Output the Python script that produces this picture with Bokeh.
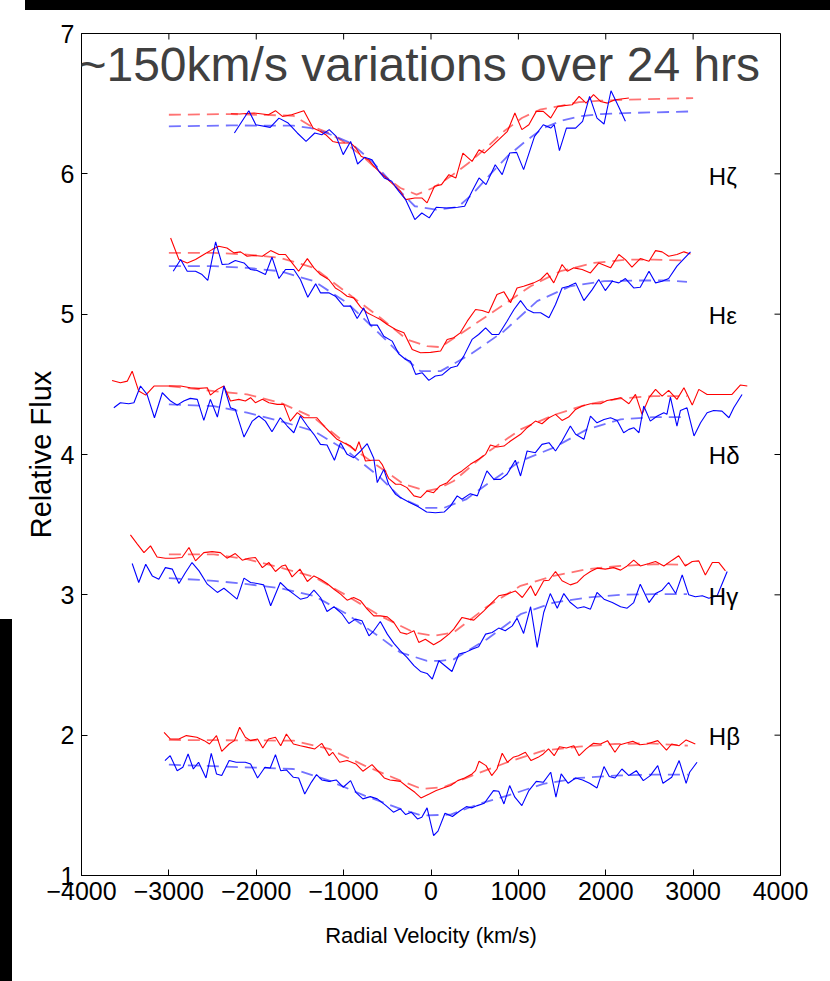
from bokeh.plotting import figure
from bokeh.models import Range1d, FixedTicker, Label, Spacer
from bokeh.layouts import row, column
from bokeh.core.properties import value
from bokeh.embed import file_html
from bokeh.resources import INLINE

# ---------------- data ----------------
x_min, x_max = -4000, 4000
y_min, y_max = 1, 7
x_ticks = [-4000, -3000, -2000, -1000, 0, 1000, 2000, 3000, 4000]
x_tick_labels = ["\u22124000", "\u22123000", "\u22122000", "\u22121000", "0", "1000", "2000", "3000", "4000"]
y_ticks = [1, 2, 3, 4, 5, 6, 7]

line_names = ["H\u03b6", "H\u03b5", "H\u03b4", "H\u03b3", "H\u03b2"]
label_v = [3180, 3180, 3180, 3180, 3180]
label_f = [5.98, 4.99, 3.99, 2.99, 1.99]

# H zeta
zeta_red_v = [-2290, -2190, -2025, -1860, -1780, -1700, -1595, -1455, -1350, -1270, -1205, -1125, -1045, -920, -860, -800, -715, -655, -595, -515, -430, -350, -290, -185, -105, -45, 40, 120, 205, 285, 365, 470, 550, 610, 715, 835, 875, 960, 1040, 1120, 1205, 1285, 1370, 1450, 1615, 1695, 1775, 1860, 1940, 2020, 2105, 2265]
zeta_red_f = [6.428, 6.426, 6.433, 6.421, 6.450, 6.409, 6.421, 6.450, 6.326, 6.303, 6.279, 6.231, 6.220, 6.220, 6.184, 6.125, 6.101, 6.054, 6.018, 5.971, 5.923, 5.876, 5.816, 5.828, 5.828, 5.793, 5.911, 5.923, 5.994, 5.971, 6.148, 6.089, 6.172, 6.148, 6.208, 6.279, 6.303, 6.433, 6.315, 6.350, 6.445, 6.445, 6.398, 6.481, 6.492, 6.552, 6.504, 6.564, 6.516, 6.504, 6.528, 6.540]
zeta_blue_v = [-2250, -2085, -2005, -1840, -1740, -1635, -1530, -1430, -1330, -1250, -1165, -1085, -1005, -920, -840, -760, -675, -595, -535, -450, -370, -290, -185, -105, -20, 60, 180, 305, 385, 470, 550, 630, 735, 815, 900, 980, 1060, 1185, 1285, 1370, 1410, 1470, 1550, 1655, 1735, 1815, 1900, 1980, 2060, 2145, 2225]
zeta_blue_f = [6.291, 6.450, 6.350, 6.331, 6.397, 6.362, 6.291, 6.231, 6.291, 6.279, 6.315, 6.267, 6.137, 6.231, 6.070, 6.118, 6.101, 6.018, 5.971, 5.947, 5.876, 5.816, 5.674, 5.721, 5.686, 5.762, 5.757, 5.762, 5.769, 5.876, 5.971, 5.923, 6.065, 5.994, 6.148, 6.153, 6.030, 6.267, 6.350, 6.326, 6.350, 6.165, 6.326, 6.326, 6.374, 6.552, 6.397, 6.355, 6.592, 6.481, 6.374]
zeta_redfit_v = [-3000, -2290, -1575, -1370, -1165, -1005, -760, -555, -350, -165, 20, 225, 430, 630, 835, 1040, 1245, 1490, 1695, 1940, 2225, 3000]
zeta_redfit_f = [6.421, 6.426, 6.414, 6.338, 6.291, 6.231, 6.113, 5.994, 5.899, 5.852, 5.899, 5.982, 6.077, 6.184, 6.303, 6.398, 6.457, 6.485, 6.511, 6.521, 6.528, 6.540]
zeta_bluefit_v = [-3000, -2290, -1575, -1370, -1165, -920, -675, -430, -185, 60, 305, 470, 675, 875, 1080, 1285, 1490, 1695, 1940, 2225, 3000]
zeta_bluefit_f = [6.338, 6.345, 6.343, 6.326, 6.284, 6.220, 6.089, 5.923, 5.769, 5.745, 5.762, 5.852, 5.994, 6.125, 6.231, 6.326, 6.378, 6.409, 6.426, 6.433, 6.445]

# H epsilon
eps_red_v = [-2980, -2885, -2790, -2695, -2600, -2505, -2430, -2335, -2255, -2180, -2105, -2030, -1930, -1835, -1740, -1665, -1590, -1515, -1415, -1340, -1265, -1170, -1095, -1035, -960, -885, -805, -730, -655, -580, -500, -405, -310, -215, -120, -5, 110, 185, 260, 335, 415, 510, 585, 660, 755, 835, 910, 985, 1060, 1175, 1255, 1330, 1405, 1500, 1560, 1635, 1730, 1825, 1920, 2055, 2150, 2225, 2300, 2395, 2495, 2570, 2645, 2720, 2815, 2895, 2970]
eps_red_f = [5.543, 5.389, 5.365, 5.389, 5.425, 5.460, 5.484, 5.472, 5.437, 5.444, 5.413, 5.418, 5.413, 5.453, 5.425, 5.425, 5.365, 5.306, 5.396, 5.330, 5.282, 5.247, 5.187, 5.164, 5.128, 5.116, 5.050, 5.010, 4.986, 4.962, 4.926, 4.891, 4.867, 4.748, 4.725, 4.728, 4.737, 4.820, 4.832, 4.867, 4.950, 5.033, 5.026, 5.010, 5.140, 5.159, 5.081, 5.187, 5.199, 5.223, 5.247, 5.294, 5.223, 5.354, 5.306, 5.330, 5.318, 5.294, 5.365, 5.330, 5.425, 5.389, 5.335, 5.396, 5.377, 5.453, 5.444, 5.413, 5.425, 5.444, 5.429]
eps_blue_v = [-2950, -2865, -2790, -2695, -2620, -2555, -2465, -2390, -2315, -2240, -2140, -2065, -1990, -1895, -1820, -1740, -1665, -1570, -1495, -1410, -1320, -1265, -1170, -1095, -1000, -920, -845, -770, -695, -615, -540, -445, -370, -290, -235, -175, -100, -25, 50, 125, 225, 300, 375, 470, 545, 625, 700, 775, 870, 950, 1025, 1100, 1175, 1255, 1350, 1425, 1500, 1575, 1655, 1750, 1845, 1920, 1995, 2075, 2150, 2225, 2320, 2395, 2495, 2570, 2645, 2720, 2815, 2970]
eps_blue_f = [5.306, 5.389, 5.306, 5.306, 5.282, 5.240, 5.515, 5.354, 5.358, 5.382, 5.365, 5.318, 5.311, 5.282, 5.406, 5.254, 5.318, 5.318, 5.247, 5.121, 5.216, 5.152, 5.152, 5.128, 5.057, 5.057, 4.969, 5.045, 4.922, 4.922, 4.843, 4.808, 4.718, 4.677, 4.665, 4.571, 4.582, 4.528, 4.559, 4.566, 4.618, 4.630, 4.701, 4.820, 4.855, 4.903, 4.855, 4.855, 4.950, 5.033, 5.097, 5.033, 5.010, 5.010, 4.974, 5.069, 5.187, 5.199, 5.223, 5.097, 5.175, 5.247, 5.168, 5.235, 5.223, 5.254, 5.187, 5.192, 5.306, 5.223, 5.235, 5.254, 5.342, 5.444]
eps_redfit_v = [-3000, -2485, -2105, -1725, -1340, -960, -580, -275, -45, 110, 450, 835, 1140, 1480, 1865, 2245, 2550, 2930]
eps_redfit_f = [5.437, 5.437, 5.425, 5.401, 5.330, 5.152, 4.974, 4.820, 4.772, 4.765, 4.907, 5.069, 5.199, 5.306, 5.365, 5.389, 5.389, 5.382]
eps_bluefit_v = [-3000, -2485, -2105, -1725, -1340, -960, -580, -350, -120, 110, 450, 835, 1215, 1595, 1980, 2360, 2700, 2930]
eps_bluefit_f = [5.342, 5.342, 5.330, 5.306, 5.235, 5.081, 4.855, 4.713, 4.594, 4.594, 4.713, 4.879, 5.093, 5.199, 5.235, 5.240, 5.240, 5.230]

# H delta
delta_red_v = [-3650, -3555, -3475, -3420, -3345, -3265, -3170, -3060, -2945, -2865, -2755, -2655, -2560, -2525, -2445, -2370, -2295, -2200, -2125, -2065, -2010, -1930, -1855, -1760, -1685, -1610, -1530, -1455, -1380, -1305, -1225, -1150, -1075, -1000, -920, -865, -825, -750, -675, -595, -560, -485, -405, -350, -275, -195, -120, -45, 30, 100, 185, 260, 355, 450, 545, 625, 680, 755, 835, 910, 1025, 1100, 1195, 1270, 1350, 1425, 1500, 1575, 1655, 1730, 1825, 1940, 2015, 2090, 2170, 2265, 2340, 2415, 2495, 2570, 2645, 2720, 2815, 2895, 2990, 3065, 3160, 3235, 3330, 3445, 3540, 3620]
delta_red_f = [4.528, 4.511, 4.523, 4.594, 4.452, 4.423, 4.488, 4.488, 4.488, 4.488, 4.476, 4.471, 4.476, 4.423, 4.464, 4.488, 4.381, 4.393, 4.381, 4.405, 4.369, 4.393, 4.369, 4.357, 4.357, 4.238, 4.298, 4.262, 4.262, 4.262, 4.203, 4.155, 4.108, 4.084, 4.060, 4.025, 4.091, 3.954, 3.959, 3.959, 3.930, 3.830, 3.788, 3.788, 3.764, 3.705, 3.693, 3.740, 3.728, 3.775, 3.799, 3.847, 3.883, 3.930, 3.966, 4.001, 4.068, 4.053, 4.060, 4.096, 4.144, 4.191, 4.238, 4.219, 4.262, 4.286, 4.243, 4.267, 4.321, 4.345, 4.362, 4.362, 4.385, 4.393, 4.405, 4.362, 4.428, 4.286, 4.405, 4.464, 4.416, 4.457, 4.393, 4.476, 4.352, 4.464, 4.428, 4.428, 4.428, 4.428, 4.495, 4.488]
delta_blue_v = [-3630, -3555, -3460, -3400, -3325, -3250, -3165, -3075, -2980, -2905, -2830, -2755, -2675, -2600, -2525, -2445, -2370, -2295, -2240, -2140, -2045, -1970, -1895, -1820, -1725, -1645, -1570, -1495, -1415, -1340, -1265, -1190, -1105, -1035, -960, -885, -805, -730, -655, -615, -540, -485, -405, -350, -250, -150, -50, 50, 150, 220, 300, 355, 450, 530, 640, 720, 795, 870, 965, 1025, 1100, 1195, 1270, 1350, 1425, 1500, 1595, 1655, 1750, 1825, 1900, 1980, 2055, 2130, 2205, 2265, 2320, 2380, 2435, 2510, 2590, 2665, 2700, 2740, 2815, 2855, 2930, 3010, 3085, 3160, 3235, 3330, 3410, 3465, 3560]
delta_blue_f = [4.333, 4.369, 4.362, 4.369, 4.488, 4.428, 4.262, 4.440, 4.381, 4.352, 4.381, 4.400, 4.393, 4.243, 4.393, 4.267, 4.488, 4.333, 4.321, 4.124, 4.238, 4.274, 4.238, 4.162, 4.262, 4.203, 4.155, 4.274, 4.203, 4.144, 4.072, 4.068, 3.959, 4.084, 4.001, 3.977, 4.025, 4.077, 3.973, 3.800, 3.894, 3.788, 3.716, 3.693, 3.660, 3.630, 3.590, 3.585, 3.590, 3.630, 3.705, 3.681, 3.721, 3.705, 3.883, 3.823, 3.823, 3.859, 3.959, 3.847, 4.025, 4.013, 4.072, 4.084, 4.025, 4.096, 4.203, 4.144, 4.108, 4.274, 4.226, 4.250, 4.262, 4.243, 4.155, 4.179, 4.191, 4.155, 4.345, 4.238, 4.274, 4.298, 4.286, 4.409, 4.203, 4.314, 4.333, 4.132, 4.226, 4.298, 4.314, 4.309, 4.262, 4.333, 4.428]
delta_redfit_v = [-3000, -2485, -2105, -1725, -1340, -960, -580, -310, -45, 100, 260, 640, 1025, 1405, 1785, 2170, 2550, 2930]
delta_redfit_f = [4.488, 4.452, 4.428, 4.369, 4.262, 4.072, 3.906, 3.788, 3.740, 3.760, 3.811, 4.013, 4.179, 4.281, 4.357, 4.400, 4.416, 4.416]
delta_bluefit_v = [-3000, -2485, -2105, -1725, -1340, -960, -580, -350, -100, 150, 400, 640, 1025, 1405, 1785, 2170, 2550, 2930]
delta_bluefit_f = [4.357, 4.345, 4.298, 4.238, 4.167, 4.025, 3.835, 3.693, 3.620, 3.620, 3.680, 3.788, 3.954, 4.049, 4.179, 4.250, 4.267, 4.267]

# H gamma
gamma_red_v = [-3440, -3365, -3285, -3210, -3135, -3040, -2945, -2850, -2770, -2695, -2600, -2505, -2410, -2335, -2240, -2160, -2085, -2010, -1930, -1855, -1780, -1705, -1665, -1590, -1500, -1415, -1340, -1265, -1190, -1110, -1035, -960, -885, -805, -730, -655, -580, -500, -425, -350, -275, -195, -140, -65, 30, 110, 205, 260, 355, 435, 490, 605, 680, 775, 870, 965, 1045, 1140, 1195, 1290, 1350, 1425, 1500, 1595, 1675, 1750, 1825, 1900, 1995, 2090, 2170, 2245, 2320, 2395, 2495, 2570, 2665, 2760, 2835, 2910, 2990, 3065, 3140, 3220, 3295, 3370]
gamma_red_f = [3.427, 3.365, 3.301, 3.349, 3.270, 3.261, 3.261, 3.266, 3.337, 3.242, 3.301, 3.308, 3.301, 3.261, 3.294, 3.247, 3.261, 3.266, 3.194, 3.230, 3.166, 3.206, 3.213, 3.128, 3.183, 3.095, 3.135, 3.111, 3.081, 3.040, 3.005, 2.962, 2.981, 2.957, 2.898, 2.850, 2.850, 2.843, 2.803, 2.732, 2.720, 2.744, 2.661, 2.684, 2.644, 2.673, 2.720, 2.756, 2.839, 2.827, 2.820, 2.886, 2.934, 2.993, 3.005, 3.028, 2.981, 3.064, 2.993, 3.100, 3.104, 3.166, 3.100, 3.071, 3.088, 3.135, 3.166, 3.190, 3.183, 3.194, 3.176, 3.206, 3.247, 3.206, 3.223, 3.237, 3.206, 3.247, 3.278, 3.206, 3.237, 3.242, 3.142, 3.230, 3.230, 3.171]
gamma_blue_v = [-3420, -3345, -3265, -3190, -3115, -3040, -2960, -2885, -2810, -2735, -2655, -2560, -2445, -2370, -2295, -2220, -2140, -2065, -1990, -1915, -1835, -1725, -1645, -1570, -1495, -1415, -1340, -1265, -1190, -1110, -1015, -940, -865, -790, -710, -655, -580, -500, -425, -350, -275, -195, -120, -45, 15, 90, 240, 320, 395, 470, 545, 625, 700, 775, 850, 930, 985, 1060, 1140, 1215, 1290, 1365, 1445, 1520, 1595, 1675, 1750, 1825, 1900, 1980, 2075, 2170, 2245, 2320, 2395, 2495, 2570, 2645, 2720, 2800, 2875, 2950, 3025, 3105, 3180, 3275, 3390]
gamma_blue_f = [3.223, 3.088, 3.218, 3.135, 3.111, 3.194, 3.183, 3.081, 3.159, 3.230, 3.171, 3.076, 3.017, 3.047, 3.009, 2.969, 3.119, 3.088, 3.081, 3.071, 2.922, 3.088, 3.040, 3.005, 2.969, 2.981, 3.033, 2.981, 2.881, 2.915, 2.862, 2.796, 2.827, 2.815, 2.708, 2.744, 2.810, 2.720, 2.654, 2.601, 2.554, 2.495, 2.454, 2.440, 2.400, 2.530, 2.454, 2.578, 2.590, 2.613, 2.630, 2.720, 2.732, 2.763, 2.744, 2.779, 2.834, 2.725, 2.915, 2.625, 2.874, 3.009, 2.905, 3.009, 2.945, 2.905, 2.915, 2.898, 3.017, 2.969, 2.945, 2.915, 2.905, 2.945, 3.076, 2.945, 3.009, 3.033, 3.088, 3.009, 3.142, 3.000, 2.986, 2.993, 2.976, 2.993, 3.166]
gamma_redfit_v = [-3000, -2485, -2105, -1725, -1340, -960, -580, -195, 30, 260, 640, 1025, 1405, 1785, 2170, 2550, 2930]
gamma_redfit_f = [3.289, 3.289, 3.254, 3.194, 3.128, 2.993, 2.850, 2.732, 2.708, 2.732, 2.915, 3.064, 3.135, 3.183, 3.206, 3.218, 3.214]
gamma_bluefit_v = [-3000, -2485, -2105, -1725, -1340, -960, -580, -350, -45, 110, 260, 640, 1025, 1405, 1785, 2170, 2550, 2930]
gamma_bluefit_f = [3.119, 3.100, 3.076, 3.047, 2.993, 2.862, 2.696, 2.589, 2.530, 2.530, 2.540, 2.684, 2.862, 2.945, 2.981, 3.000, 3.005, 3.005]

# H beta
beta_red_v = [-3055, -2985, -2885, -2800, -2680, -2595, -2535, -2455, -2395, -2310, -2250, -2190, -2125, -2065, -1985, -1925, -1860, -1780, -1720, -1655, -1575, -1495, -1410, -1330, -1250, -1165, -1125, -1045, -960, -860, -780, -675, -595, -535, -470, -410, -350, -265, -185, -115, -20, 60, 140, 225, 305, 385, 470, 510, 550, 630, 695, 755, 815, 875, 940, 1000, 1080, 1145, 1225, 1285, 1345, 1410, 1470, 1550, 1635, 1695, 1775, 1860, 1940, 2020, 2105, 2165, 2225, 2310, 2390, 2470, 2595, 2695, 2755, 2840, 2920, 3025]
beta_red_f = [2.020, 1.973, 1.973, 1.997, 1.985, 1.961, 1.937, 1.997, 1.885, 1.937, 1.961, 2.056, 1.985, 1.961, 1.973, 1.909, 1.973, 1.985, 1.925, 2.008, 1.937, 1.925, 1.913, 1.902, 1.942, 1.854, 1.878, 1.807, 1.819, 1.795, 1.743, 1.790, 1.736, 1.695, 1.681, 1.676, 1.671, 1.629, 1.593, 1.553, 1.581, 1.605, 1.624, 1.641, 1.676, 1.695, 1.724, 1.747, 1.814, 1.783, 1.712, 1.759, 1.871, 1.807, 1.842, 1.854, 1.878, 1.819, 1.842, 1.866, 1.902, 1.854, 1.918, 1.909, 1.925, 1.854, 1.902, 1.942, 1.937, 1.961, 1.878, 1.932, 1.942, 1.956, 1.932, 1.937, 1.961, 1.894, 1.937, 1.925, 1.966, 1.937]
beta_blue_v = [-3045, -2985, -2905, -2840, -2780, -2720, -2660, -2575, -2515, -2455, -2395, -2310, -2230, -2125, -2065, -1985, -1900, -1840, -1780, -1720, -1655, -1575, -1515, -1445, -1370, -1310, -1250, -1165, -1085, -1005, -920, -860, -780, -695, -615, -515, -430, -350, -290, -225, -155, -105, -45, 30, 80, 160, 245, 325, 405, 470, 530, 610, 715, 775, 835, 900, 960, 1040, 1120, 1205, 1285, 1370, 1430, 1490, 1570, 1655, 1735, 1815, 1900, 1980, 2040, 2105, 2185, 2265, 2350, 2430, 2510, 2595, 2655, 2755, 2840, 2920, 2960, 3045]
beta_blue_f = [1.819, 1.854, 1.747, 1.771, 1.866, 1.759, 1.807, 1.695, 1.871, 1.724, 1.712, 1.819, 1.807, 1.807, 1.795, 1.695, 1.771, 1.766, 1.861, 1.747, 1.752, 1.700, 1.695, 1.581, 1.664, 1.719, 1.681, 1.671, 1.681, 1.629, 1.676, 1.593, 1.546, 1.562, 1.546, 1.498, 1.451, 1.475, 1.434, 1.451, 1.403, 1.415, 1.482, 1.285, 1.316, 1.444, 1.420, 1.458, 1.491, 1.482, 1.498, 1.515, 1.605, 1.600, 1.510, 1.641, 1.558, 1.498, 1.605, 1.671, 1.664, 1.736, 1.558, 1.724, 1.657, 1.695, 1.681, 1.657, 1.624, 1.776, 1.705, 1.695, 1.759, 1.712, 1.747, 1.676, 1.712, 1.783, 1.657, 1.700, 1.819, 1.657, 1.736, 1.807]
beta_redfit_v = [-3000, -1575, -1165, -760, -350, -105, 140, 470, 875, 1285, 1695, 2105, 2510, 2940]
beta_redfit_f = [1.966, 1.961, 1.902, 1.783, 1.676, 1.617, 1.629, 1.712, 1.807, 1.890, 1.918, 1.937, 1.942, 1.925]
beta_bluefit_v = [-3000, -1575, -1165, -760, -350, -105, 225, 550, 875, 1285, 1695, 2105, 2510, 2940]
beta_bluefit_f = [1.790, 1.759, 1.676, 1.569, 1.475, 1.427, 1.434, 1.510, 1.569, 1.653, 1.695, 1.712, 1.719, 1.719]

title_text = "~150km/s variations over 24 hrs"

# ---------------- figure ----------------
RED = "#ff0000"
BLUE = "#0000ff"
SANS = "Liberation Sans"

p = figure(width=818, height=971, output_backend="svg", toolbar_location=None,
           x_range=Range1d(x_min, x_max), y_range=Range1d(y_min, y_max),
           min_border_left=69, min_border_right=50, min_border_top=23, min_border_bottom=106,
           background_fill_color="white", border_fill_color="white")
p.grid.visible = False
p.outline_line_color = "black"
p.outline_line_width = 1

for ax in p.xaxis + p.yaxis:
    ax.major_tick_in = 6
    ax.major_tick_out = 0
    ax.minor_tick_in = 0
    ax.minor_tick_out = 0
    ax.axis_line_color = "black"
    ax.major_tick_line_color = "black"
    ax.major_label_text_font = SANS
    ax.major_label_text_font_size = "25px"
    ax.major_label_text_color = "black"
    ax.axis_label_text_font = SANS
    ax.axis_label_text_font_style = "normal"
    ax.axis_label_text_color = "black"

p.xaxis.ticker = FixedTicker(ticks=x_ticks)
p.yaxis.ticker = FixedTicker(ticks=y_ticks)
p.xaxis.major_label_overrides = {t: s for t, s in zip(x_ticks, x_tick_labels)}
p.xaxis.major_label_standoff = 6
p.yaxis.major_label_standoff = 7

p.xaxis.axis_label = "Radial Velocity (km/s)"
p.xaxis.axis_label_text_font_size = "22px"
p.xaxis.axis_label_standoff = 20

p.yaxis.axis_label = "Relative Flux"
p.yaxis.axis_label_text_font_size = "29px"
p.yaxis.axis_label_standoff = 1

# inward ticks on the top and right edges of the box
p.ray(x=x_ticks, y=[y_max] * len(x_ticks), length=6, length_units="screen",
      angle=-90, angle_units="deg", line_color="black", line_width=1)
p.ray(x=[x_max] * len(y_ticks), y=y_ticks, length=6, length_units="screen",
      angle=180, angle_units="deg", line_color="black", line_width=1)

series = [
    (zeta_redfit_v, zeta_redfit_f, RED, True), (zeta_bluefit_v, zeta_bluefit_f, BLUE, True),
    (eps_redfit_v, eps_redfit_f, RED, True), (eps_bluefit_v, eps_bluefit_f, BLUE, True),
    (delta_redfit_v, delta_redfit_f, RED, True), (delta_bluefit_v, delta_bluefit_f, BLUE, True),
    (gamma_redfit_v, gamma_redfit_f, RED, True), (gamma_bluefit_v, gamma_bluefit_f, BLUE, True),
    (beta_redfit_v, beta_redfit_f, RED, True), (beta_bluefit_v, beta_bluefit_f, BLUE, True),
    (zeta_red_v, zeta_red_f, RED, False), (zeta_blue_v, zeta_blue_f, BLUE, False),
    (eps_red_v, eps_red_f, RED, False), (eps_blue_v, eps_blue_f, BLUE, False),
    (delta_red_v, delta_red_f, RED, False), (delta_blue_v, delta_blue_f, BLUE, False),
    (gamma_red_v, gamma_red_f, RED, False), (gamma_blue_v, gamma_blue_f, BLUE, False),
    (beta_red_v, beta_red_f, RED, False), (beta_blue_v, beta_blue_f, BLUE, False),
]
for xs, ys, col, dashed in series:
    if dashed:
        p.line(xs, ys, line_color=col, line_width=1.8, line_alpha=0.55, line_dash="12 7")
    else:
        p.line(xs, ys, line_color=col, line_width=1.1)

p.text(x=label_v, y=label_f, text=line_names, text_font=value(SANS), text_font_size="24px",
       text_color="black", text_baseline="middle", text_align="left")

p.add_layout(Label(x=-4035, y=6.78, text=title_text, text_font=SANS,
                   text_font_size="48px", text_color="#404040", text_baseline="middle"))

# black bars at the screenshot's edges
top_bar = row(Spacer(width=25, height=10),
              Spacer(width=805, height=10, styles={"background-color": "black"}))
left_bar = column(Spacer(width=12, height=609),
                  Spacer(width=12, height=362, styles={"background-color": "black"}))
page = column(top_bar, row(left_bar, p))

open("out.html", "w").write(file_html(page, INLINE))
